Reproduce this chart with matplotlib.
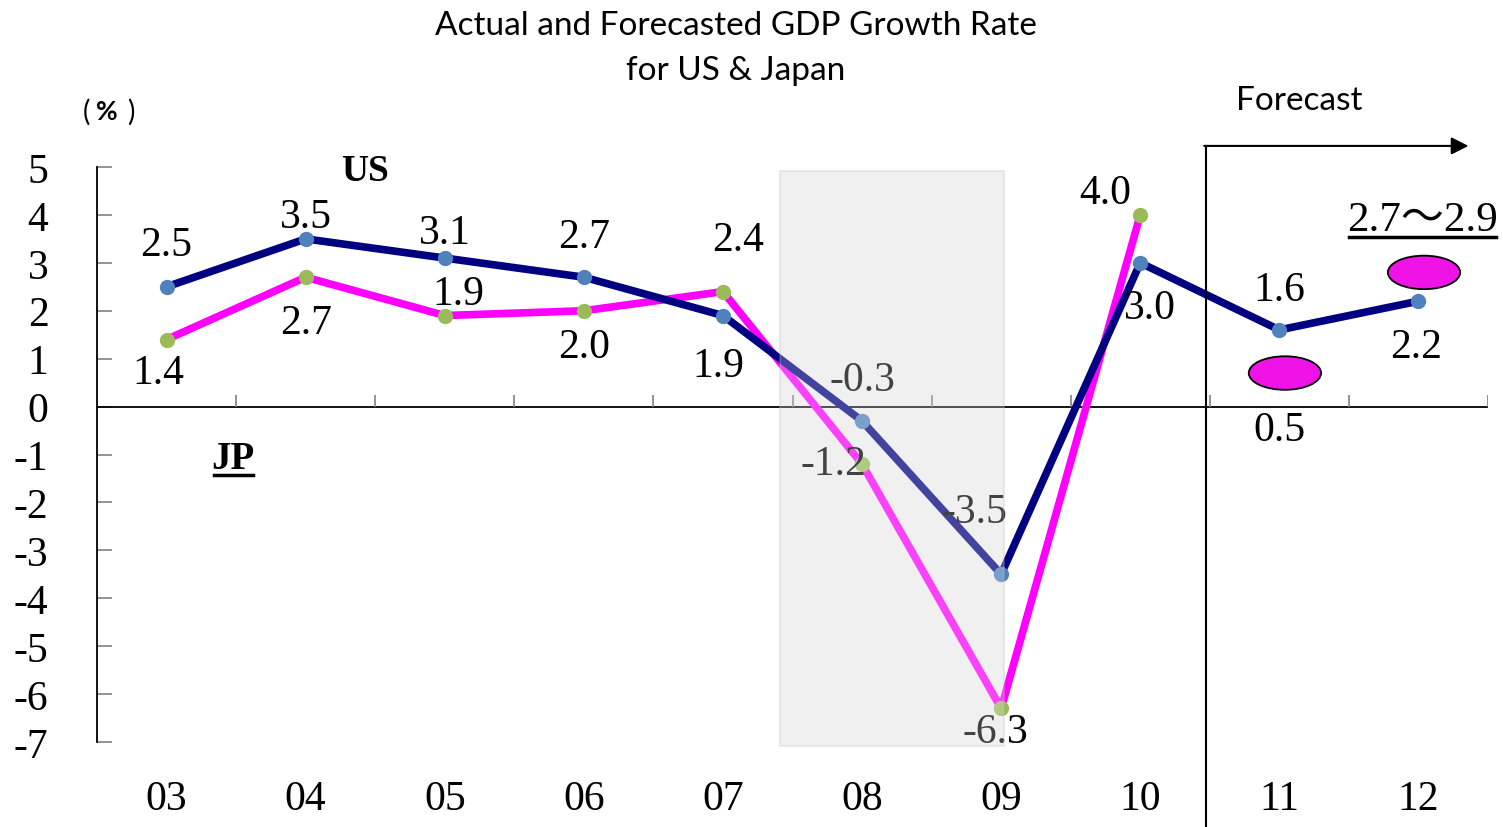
import matplotlib
matplotlib.use("Agg")
import matplotlib.pyplot as plt
from matplotlib.patches import Rectangle, Ellipse
from matplotlib.lines import Line2D

years = ["03", "04", "05", "06", "07", "08", "09", "10", "11", "12"]
us_growth = [2.5, 3.5, 3.1, 2.7, 1.9, -0.3, -3.5, 3.0, 1.6, 2.2]
jp_growth = [1.4, 2.7, 1.9, 2.0, 2.4, -1.2, -6.3, 4.0]
jp_forecast_x = [8, 9]
jp_forecast_mid = [0.7, 2.8]
jp_forecast_labels = ["0.5", "2.7\u301c2.9"]
y_ticks = list(range(-7, 6))

# label offsets (points) relative to each marker
us_off = [(0, 30), (0, 16), (0, 18), (0, 29), (-3, -36), (0, 30), (-19, 45), (7, -32), (0, 29), (-2, -33)]
jp_off = [(-6, -24), (0, -33), (10, 16), (0, -26), (11, 37), (-21, 0), (-4, -17), (-25, 16)]

SERIF = ["Liberation Serif", "Noto Sans CJK JP"]
NAVY = "#000080"
PINK = "#ff00ff"

fig = plt.figure(figsize=(15.03, 8.28), dpi=100)
ax = fig.add_axes([97 / 1503, 1 - 743 / 828, (1488 - 97) / 1503, (743 - 168) / 828])
x = list(range(len(years)))

ax.set_xlim(-0.5, 9.5)
ax.set_ylim(-7, 5)

# recession shading (underlay + light overlay on top of the lines)
ax.add_patch(Rectangle((4.41, -7.08), 1.61, 12.0, facecolor="#f0f0f0", edgecolor="none",
                       zorder=0, clip_on=False))
ax.add_patch(Rectangle((4.41, -7.08), 1.61, 12.0, facecolor="#f0f0f0", alpha=0.28,
                       edgecolor="#bdbdbd", lw=1.5, zorder=10, clip_on=False))

ax.plot(x, us_growth, color=NAVY, lw=5.5, marker="o", ms=10, mfc="#4f81bd", mec="#4f81bd", zorder=4)
ax.plot(x[:len(jp_growth)], jp_growth, color=PINK, lw=5.5, marker="o", ms=10,
        mfc="#9bbb59", mec="#9bbb59", zorder=3)

for xf, yf in zip(jp_forecast_x, jp_forecast_mid):
    ax.add_patch(Ellipse((xf + 0.04, yf), 0.52, 0.7, facecolor="#f013e8", edgecolor="black",
                         lw=1.3, zorder=5))

for i, v in enumerate(us_growth):
    ax.annotate(f"{v:.1f}", (i, v), xytext=us_off[i], textcoords="offset points",
                ha="center", va="center", fontsize=30, family=SERIF, zorder=6)
for i, v in enumerate(jp_growth):
    ax.annotate(f"{v:.1f}", (i, v), xytext=jp_off[i], textcoords="offset points",
                ha="center", va="center", fontsize=30, family=SERIF, zorder=6)

ax.annotate(jp_forecast_labels[0], (jp_forecast_x[0], jp_forecast_mid[0]), xytext=(0, -41),
            textcoords="offset points", ha="center", va="center", fontsize=30, family=SERIF)
t_range = ax.annotate(jp_forecast_labels[1], (jp_forecast_x[1], jp_forecast_mid[1]), xytext=(3, 38),
                      textcoords="offset points", ha="center", va="center", fontsize=31,
                      family=SERIF)

ax.text(1.43, 4.92, "US", fontsize=27, fontweight="bold", family=SERIF, ha="center", va="center")
t_jp = ax.text(0.48, -1.09, "JP", fontsize=28, fontweight="bold", family=SERIF,
               ha="center", va="center")

# zero line with category boundary ticks
ax.axhline(0, color="black", lw=1.3, zorder=2)
ax.vlines([i + 0.5 for i in x], 0, 0.25, color="#808080", lw=1.2, zorder=2)

# forecast marker
ax.plot([7.47, 7.47], [5.44, -8.9], color="black", lw=1.5, clip_on=False, zorder=7)
ax.annotate("", xy=(9.36, 5.44), xytext=(7.46, 5.44),
            arrowprops=dict(arrowstyle="-|>", color="black", lw=1.5, mutation_scale=26,
                            shrinkA=0, shrinkB=0), annotation_clip=False)
ax.text(8.14, 6.4, "Forecast", fontsize=24, family="Lato", ha="center", va="center")

for s in ["top", "right", "bottom"]:
    ax.spines[s].set_visible(False)
ax.spines["left"].set_linewidth(1.3)

ax.set_yticks(y_ticks)
ax.set_yticklabels([str(v) for v in y_ticks], fontsize=30, family=SERIF)
ax.tick_params(axis="y", direction="in", length=11, color="#808080", width=1.2, pad=35)
ax.set_xticks(x)
ax.set_xticklabels(years, fontsize=30, family=SERIF)
ax.tick_params(axis="x", length=0, pad=27)

fig.text(736 / 1503, 1 - 26 / 828, "Actual and Forecasted GDP Growth Rate", fontsize=24,
         family="Lato", ha="center", va="center")
fig.text(736 / 1503, 1 - 71 / 828, "for US & Japan", fontsize=24, family="Lato",
         ha="center", va="center")
fig.text(86 / 1503, 1 - 112 / 828, "(", fontsize=20, family="Lato", ha="center", va="center")
fig.text(107 / 1503, 1 - 112 / 828, "%", fontsize=19, fontweight="bold", family="Lato",
         ha="center", va="center")
fig.text(131 / 1503, 1 - 112 / 828, ")", fontsize=20, family="Lato", ha="center", va="center")

# underlines for JP and the range label
fig.canvas.draw()
r = fig.canvas.get_renderer()
for t in (t_jp, t_range):
    bb = t.get_window_extent(r)
    yl = bb.y0 + 2
    fig.add_artist(Line2D([bb.x0 + 2, bb.x1 - 2], [yl, yl], transform=None, color="black", lw=2.5))

fig.savefig("out.png", dpi=100)
